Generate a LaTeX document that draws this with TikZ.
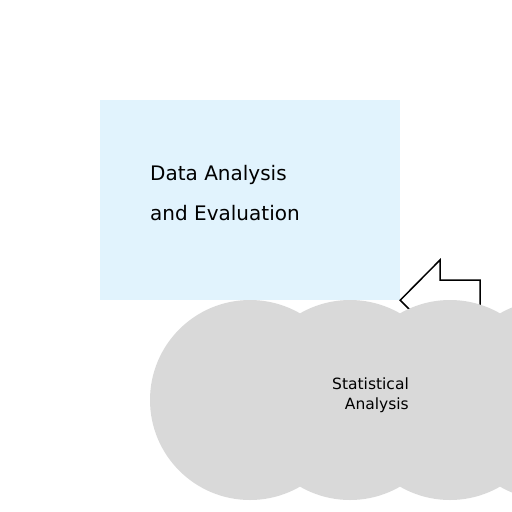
\documentclass[tikz,border=0pt]{standalone}
\usepackage{fontspec}
\setmainfont{DejaVu Sans}
\usetikzlibrary{positioning}
\definecolor{boxblue}{HTML}{E1F3FD}
\definecolor{cloudgray}{HTML}{D9D9D9}

\begin{document}
\begin{tikzpicture}[x=1pt,y=-1pt]

\tikzstyle{topicbox} = [rectangle,fill=boxblue,draw=none,minimum width=300pt,minimum height=200pt,inner sep=0]%
\tikzstyle{topictext} = [inner sep=0,anchor=base west,font=\fontsize{20}{20}\selectfont]%
\tikzstyle{bubble} = [circle,fill=cloudgray,draw=none,minimum size=200pt,inner sep=0]%
\tikzstyle{backarrow} = [draw=black,line width=1.5pt,fill=white,line join=miter]%
\tikzstyle{bubbletext} = [inner sep=0,align=right,font=\fontsize{15.5}{20}\selectfont]%

\useasboundingbox (0,0) rectangle (512,512);

\node[topicbox] (box) at (250, 200) {};
\node[topictext] (line1) at (150, 180) {Data Analysis};
\node[topictext] (line2) at (150, 220) {and Evaluation};

% arrow pointing back to the box, partly hidden by the bubbles
\coordinate (tip) at (box.south east);
\draw[backarrow] (tip) -- (440, 260) -- (440, 280) -- (480, 280)
    -- (480, 320) -- (440, 320) -- (440, 340) -- cycle;

\foreach \i/\x in {1/250, 2/350, 3/450, 4/550}
    \node[bubble] (b\i) at (\x, 400) {};

\node[bubbletext,anchor=east] (stat) at (409, 395) {Statistical\\Analysis};

\end{tikzpicture}
\end{document}
